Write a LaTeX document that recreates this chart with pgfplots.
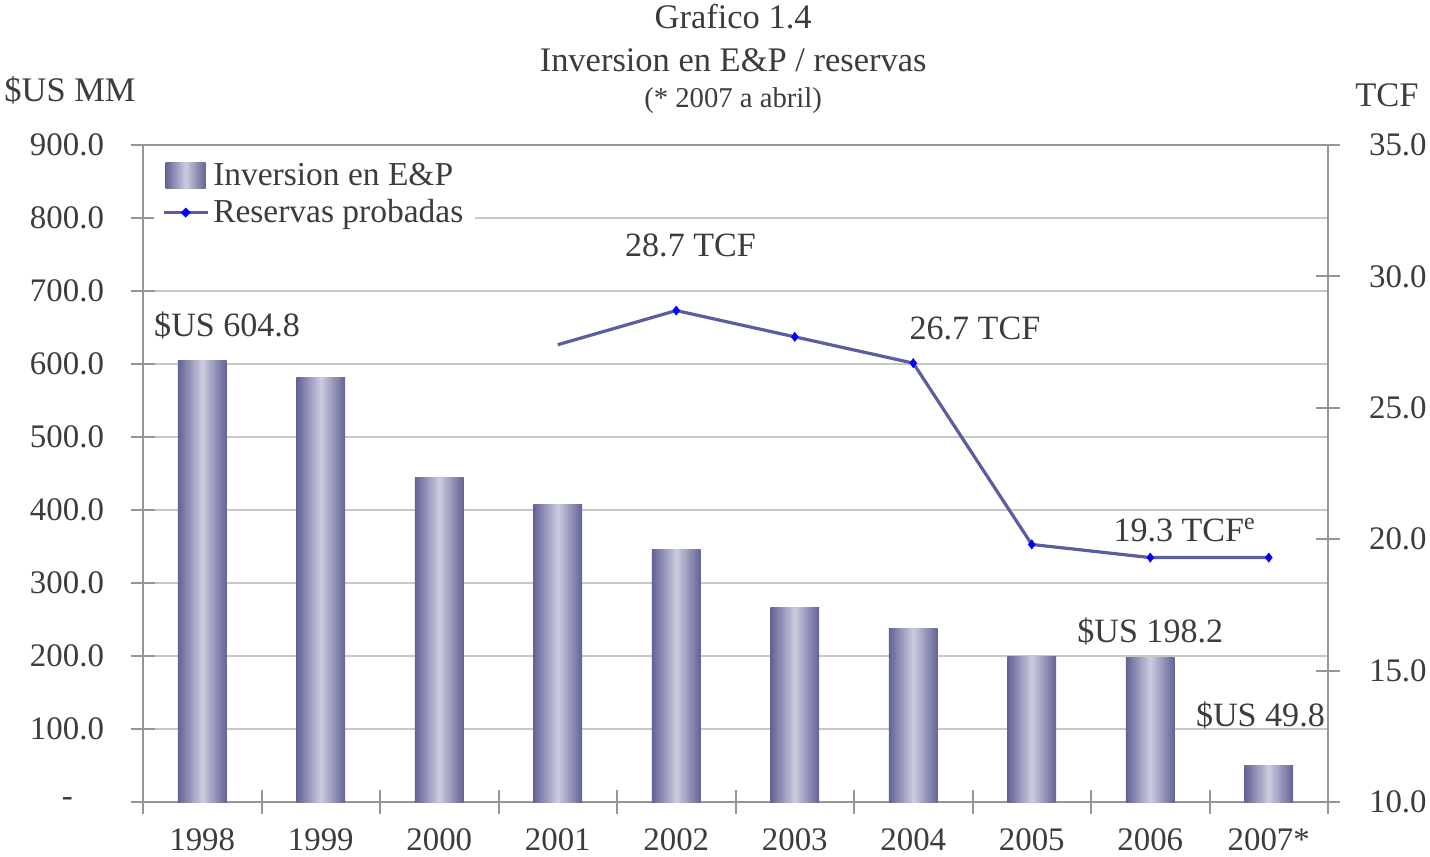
\documentclass[border=0pt]{standalone}
\usepackage{fontspec}
\setmainfont{Liberation Serif}
\usepackage{pgfplots}
\pgfplotsset{compat=1.18}
\definecolor{barDark}{RGB}{98,98,150}
\definecolor{barLight}{RGB}{204,204,224}
\definecolor{lineCol}{RGB}{92,92,160}
\definecolor{txt}{RGB}{60,60,60}
\definecolor{axgray}{RGB}{150,150,150}
\definecolor{gridgray}{RGB}{200,200,200}
\pgfplotsset{mybar/.style={ybar, bar width=0.41, bar shift=0pt, draw=none, left color=barDark, right color=barDark, middle color=barLight, forget plot}}
\newcommand{\zerolab}{\makebox[21bp][l]{-}}
\begin{document}
\begin{tikzpicture}[font=\fontsize{16.5}{19}\selectfont, text=txt]
\path[use as bounding box] (-71.5bp,-27.5bp) rectangle (643.5bp,401bp);
\begin{axis}[
  scale only axis, width=592.5bp, height=328.5bp,
  xmin=-0.5, xmax=9.5, ymin=0, ymax=900,
  xtick={-0.5,0.5,...,9.5}, x tick label as interval,
  xticklabels={1998,1999,2000,2001,2002,2003,2004,2005,2006,2007*},
  ytick={0,100,...,900},
  yticklabels={\zerolab,100.0,200.0,300.0,400.0,500.0,600.0,700.0,800.0,900.0},
  xtick pos=bottom, ytick pos=left,
  tick align=center, major tick length=12bp,
  axis line style={axgray, line width=1bp},
  tick style={axgray, line width=1bp},
  ymajorgrids, grid style={gridgray, line width=1bp},
  ticklabel style={text=txt},
  yticklabel style={xshift=-10bp},
  xticklabel style={yshift=-4bp},
  clip=false,
]
\addplot[mybar] coordinates {(0,604.8)};
\addplot[mybar] coordinates {(1,581.6)};
\addplot[mybar] coordinates {(2,445)};
\addplot[mybar] coordinates {(3,407)};
\addplot[mybar] coordinates {(4,345.4)};
\addplot[mybar] coordinates {(5,266.6)};
\addplot[mybar] coordinates {(6,237.5)};
\addplot[mybar] coordinates {(7,200)};
\addplot[mybar] coordinates {(8,198.2)};
\addplot[mybar] coordinates {(9,49.8)};
\begin{scope}[font=\fontsize{17.1}{19}\selectfont]
\node at (axis cs:0.21,653) {\$US 604.8};
\node at (axis cs:8.0,233) {\$US 198.2};
\node at (axis cs:8.93,118) {\$US 49.8};
\node at (axis cs:4.12,763) {28.7 TCF};
\node at (axis cs:6.52,649) {26.7 TCF};
\node at (axis cs:8.29,372.6) {19.3 TCF\textsuperscript{e}};
\end{scope}
\begin{scope}[font=\fontsize{17.3}{19}\selectfont]
\node at (rel axis cs:0.498,1.195) {Grafico 1.4};
\node at (rel axis cs:0.498,1.129) {Inversion en E\&P / reservas};
\node[font=\fontsize{14.4}{16}\selectfont] at (rel axis cs:0.498,1.068) {(* 2007 a abril)};
\node at (rel axis cs:-0.0616,1.0837) {\$US MM};
\node at (rel axis cs:1.0498,1.076) {TCF};
\end{scope}
\end{axis}
\begin{axis}[
  scale only axis, width=592.5bp, height=328.5bp,
  xmin=-0.5, xmax=9.5, ymin=10, ymax=35,
  axis x line=none, axis y line*=right,
  ytick={10,15,...,35},
  yticklabels={10.0,15.0,20.0,25.0,30.0,35.0},
  tick align=center, major tick length=12bp,
  axis line style={axgray, line width=1bp},
  tick style={axgray, line width=1bp},
  ticklabel style={text=txt},
  yticklabel style={xshift=11bp},
  legend style={at={(0.009,0.985)}, anchor=north west, draw=none, fill=white,
    font=\fontsize{16.8}{18.5}\selectfont, text=txt, row sep=1.5bp, inner xsep=4bp},
  legend cell align=left,
]
\addlegendimage{legend image code/.code={\path[draw=none,left color=barDark,right color=barDark,middle color=barLight] (0bp,-6.5bp) rectangle (20bp,6.5bp);}}
\addlegendentry{Inversion en E\&P}
\addlegendimage{legend image code/.code={\draw[lineCol, line width=1.6bp] (-1bp,0bp) -- (21bp,0bp); \fill[blue] (10bp,2.2bp) -- (12.2bp,0bp) -- (10bp,-2.2bp) -- (7.8bp,0bp) -- cycle;}}
\addlegendentry{Reservas probadas}
\addplot[lineCol, line width=1.6bp, no marks, forget plot]
  coordinates {(3,27.4)(4,28.7)(5,27.7)(6,26.7)(7,19.8)(8,19.3)(9,19.3)};
\addplot[only marks, mark=diamond*, mark size=2.2bp, blue, forget plot]
  coordinates {(4,28.7)(5,27.7)(6,26.7)(7,19.8)(8,19.3)(9,19.3)};
\end{axis}
\end{tikzpicture}
\end{document}
